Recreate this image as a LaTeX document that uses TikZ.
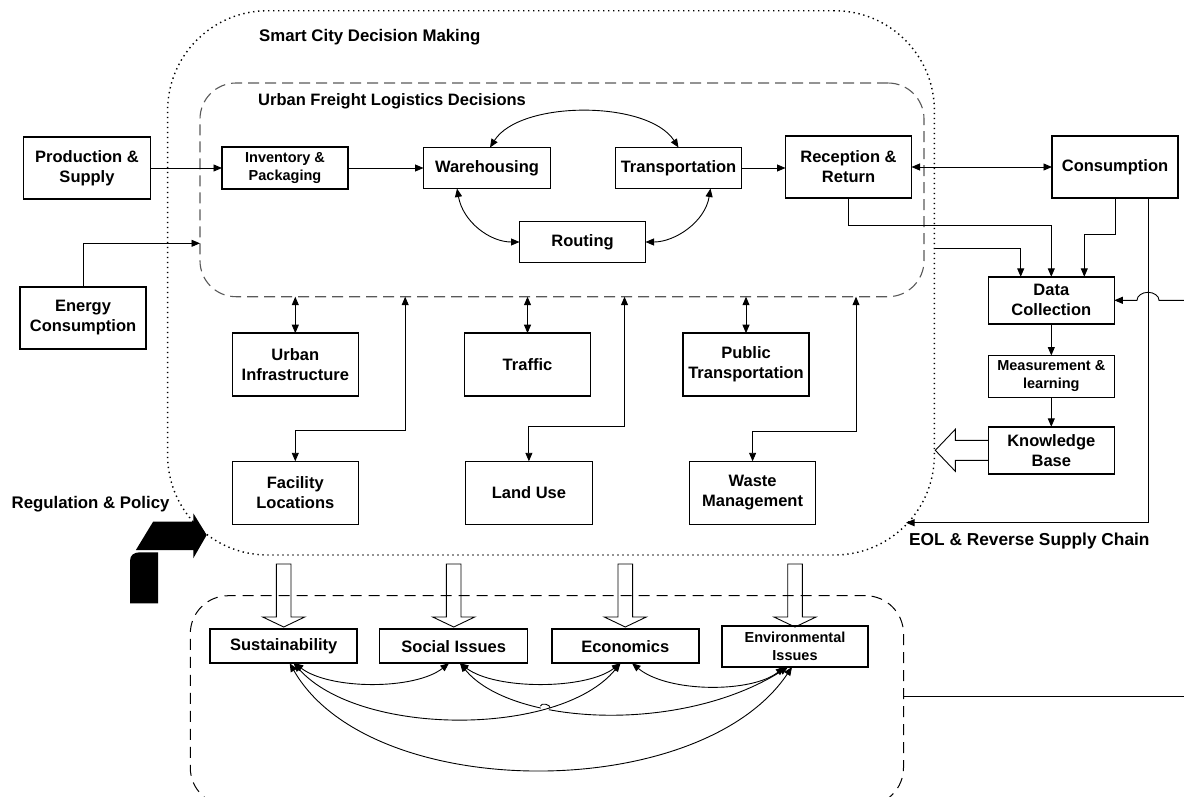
\documentclass[tikz,border=0pt]{standalone}
\usepackage{fontspec}
\setmainfont{Liberation Sans}
\usetikzlibrary{arrows.meta,calc,intersections}
\tikzset{
  vtip/.tip={Triangle[length=8.5pt,width=7pt]},
  arr/.style={line width=0.9pt,-vtip},
  darr/.style={line width=0.9pt,vtip-vtip},
  plainline/.style={line width=0.9pt},
  boxfont/.style={font=\bfseries\fontsize{16.5}{20}\selectfont},
  smallfont/.style={font=\bfseries\fontsize{14.5}{18}\selectfont},
  freelab/.style={font=\bfseries\fontsize{16.8}{20}\selectfont, inner sep=0pt, anchor=base west},
  box/.style={draw, line width=1.5pt, fill=white, inner sep=0pt, outer sep=0pt, align=center, minimum width=126pt, boxfont},
  dotframe/.style={draw, line width=1.4pt, dash pattern=on 1.4pt off 3.6pt, rounded corners=100pt, inner sep=0pt, outer sep=0pt},
  dashframe/.style={draw=black!65, line width=1.1pt, dash pattern=on 11pt off 6pt, rounded corners=36pt, inner sep=0pt, outer sep=0pt},
  dashframeb/.style={draw, line width=1pt, dash pattern=on 11pt off 7pt, rounded corners=38pt, inner sep=0pt, outer sep=0pt},
  hollow/.style={draw, line width=0.9pt},
}
\begin{document}
\begin{tikzpicture}[x=1pt,y=-1pt]
\useasboundingbox (0,0) rectangle (1184,796);

% containers
\node[dotframe, minimum width=766.8pt, minimum height=544.3pt] (scdm) at (551,282.85) {};
\node[dashframe, minimum width=724pt, minimum height=213.7pt] (ufl) at (562,189.85) {};
\node[dashframeb, minimum width=713.2pt, minimum height=210pt] (imp) at (546.9,700.7) {};

% free labels
\node[freelab] (tscdm) at (259,41.3) {Smart City Decision Making};
\node[freelab, font=\bfseries\fontsize{16.5}{20}\selectfont] (tufl) at (258,105.5) {Urban Freight Logistics Decisions};
\node[freelab] (treg) at (11.5,508) {Regulation \& Policy};
\node[freelab, font=\bfseries\fontsize{17.3}{20}\selectfont] (teol) at (909,545) {EOL \& Reverse Supply Chain};

% boxes
\node[box, minimum width=127pt, minimum height=62pt] (prod) at (87,168) {Production \&\\Supply};
\node[box, smallfont, minimum height=42pt] (inv) at (285,168) {Inventory \&\\Packaging};
\node[box, minimum width=127pt, minimum height=41pt] (ware) at (487,168) {Warehousing};
\node[box, minimum height=41pt] (trans) at (678.5,168) {Transportation};
\node[box, minimum height=41pt] (rout) at (582.5,242) {Routing};
\node[box, minimum height=62pt] (recep) at (848.5,167) {Reception \&\\Return};
\node[box, minimum height=62pt] (cons) at (1115,167) {Consumption};
\node[box, minimum height=62pt] (energy) at (83,318) {Energy\\Consumption};
\node[box, minimum height=63pt] (ui) at (295.3,364.7) {Urban\\Infrastructure};
\node[box, minimum height=63pt] (traffic) at (527.5,364.7) {Traffic};
\node[box, minimum height=63pt] (pt) at (746,364.7) {Public\\Transportation};
\node[box, minimum height=63pt] (fac) at (295.3,492.8) {Facility\\Locations};
\node[box, minimum width=127pt, minimum height=63pt] (land) at (528.9,492.8) {Land Use};
\node[box, minimum height=63pt] (waste) at (752.6,492.8) {Waste\\Management};
\node[box, minimum height=47pt] (dc) at (1051.3,300.3) {Data\\Collection};
\node[box, smallfont, minimum height=42pt] (meas) at (1051.3,376.5) {Measurement \&\\learning};
\node[box, minimum height=47pt] (kb) at (1051.3,450.3) {Knowledge\\Base};
\node[box, minimum width=147pt, minimum height=34pt] (sust) at (283.7,646.2) {Sustainability};
\node[box, minimum width=148pt, minimum height=34pt] (soc) at (453.7,646.2) {Social Issues};
\node[box, minimum width=147pt, minimum height=34pt] (econ) at (625.3,646.2) {Economics};
\node[box, smallfont, minimum width=146pt, minimum height=41pt] (env) at (795,646.5) {Environmental\\Issues};

% top chain
\draw[arr] (prod.east) -- (inv.west);
\draw[arr] (inv.east) -- (ware.west);
\draw[arr] (trans.east) -- (trans.east -| recep.west);
\draw[darr] (recep.east) -- (cons.west);
\draw[darr] ([xshift=3pt]ware.north) .. controls (520,100) and (648,100) .. (trans.north);
\draw[darr] ([xshift=-30pt]ware.south) .. controls (463,222) and (490,242) .. (rout.west);
\draw[darr] ([xshift=32pt]trans.south) .. controls (705,222) and (675,242) .. (rout.east);

% energy
\coordinate (ein) at (0,243.3);
\draw[arr] (energy.north) |- (ein -| ufl.west);

% urban context
\draw[darr] (ui.north) -- (ui.north |- ufl.south);
\draw[darr] (traffic.north) -- (traffic.north |- ufl.south);
\draw[darr] (pt.north) -- (pt.north |- ufl.south);
\coordinate (fh) at (405.2,430.7);
\draw[darr] (fac.north) |- (fh) -- (fh |- ufl.south);
\coordinate (lh) at (624.5,426.7);
\draw[darr] (land.north) |- (lh) -- (lh |- ufl.south);
\coordinate (wh) at (856,431.7);
\draw[darr] (waste.north) |- (wh) -- (wh |- ufl.south);

% data side
\coordinate (rh) at (0,225.7);
\draw[arr] (recep.south) |- (rh -| dc.north) -- (dc.north);
\coordinate (dcn3) at ([xshift=33pt]dc.north);
\coordinate (ch) at (0,234.3);
\draw[arr] (cons.south) |- (ch -| dcn3) -- (dcn3);
\coordinate (d1) at (scdm.east |- 0,248.7);
\coordinate (dcn1) at ([xshift=-30.6pt]dc.north);
\draw[arr] (d1) -| (dcn1);
\coordinate (eolend) at (906,522.7);
\draw[arr] ([xshift=33pt]cons.south) |- (eolend);
\coordinate (dcr) at (1184,300.3);
\draw[arr] (dcr) -- (1159,300.3) arc[start angle=0,end angle=180,x radius=11pt,y radius=8pt] -- (dc.east);
\draw[arr] (dc.south) -- (meas.north);
\draw[arr] (meas.south) -- (kb.north);
\draw[hollow] ([yshift=10pt]kb.west) -- ++(-33,0) -- ++(0,-11) -- ++(-20,21) -- ++(20,21) -- ++(0,-11) -- ++(33,0);

% hollow down arrows
\foreach \n in {sust,soc,econ,env}{
  \draw[hollow] (\n.north |- 0,627) -- ++(-21,-10) -- ++(13.7,0) -- ++(0,-53) -- ++(14.6,0) -- ++(0,53) -- ++(13.7,0) -- cycle;
}

% right line
\coordinate (rr) at (1184,696.7);
\draw[plainline] (rr -| imp.east) -- (rr);

% bottom relations
\draw[darr] ([xshift=11pt]sust.south) .. controls (330,690) and (415,690) .. ([xshift=-4.7pt]soc.south);
\draw[darr] ([xshift=6.3pt]soc.south) .. controls (495,690) and (586,690) .. ([xshift=-4.8pt]econ.south);
\draw[darr] ([xshift=6.7pt]econ.south) .. controls (668,693) and (752,693) .. ([xshift=-10.6pt]env.south);
\path[name path=c4] ([xshift=10pt]sust.south) .. controls (360,737) and (560,737) .. ([xshift=-4.8pt]econ.south);
\draw[darr, name path=c5] ([xshift=6.3pt]soc.south) .. controls (510,725) and (680,735) .. ([xshift=-7pt]env.south);
\path[name intersections={of=c4 and c5, by=X}];
\path[name path=hopc] (X) circle[radius=5pt];
\path[name intersections={of=c5 and hopc, by={HA,HB}, sort by=c5}];
\fill[white] (X) circle[radius=4.6pt];
\draw[plainline] (HA) to[bend left=90] (HB);
\draw[darr] ([xshift=10pt]sust.south) .. controls (360,737) and (560,737) .. ([xshift=-4.8pt]econ.south);
\draw[darr] ([xshift=6pt]sust.south) .. controls (370,804) and (700,804) .. ([xshift=-3pt]env.south);

% regulation & policy bent arrow
\fill (135.9,550) -- (153.1,521.7) -- (193.3,521.7) -- (193.3,513.3) -- (206.7,535) -- (193.3,558.3) -- (193.3,550) -- cycle;
\fill (130,603.3) -- (130,561) .. controls (130,555) and (134,552.3) .. (140,552.3) -- (158,552.3) -- (158,603.3) -- cycle;
\end{tikzpicture}
\end{document}
